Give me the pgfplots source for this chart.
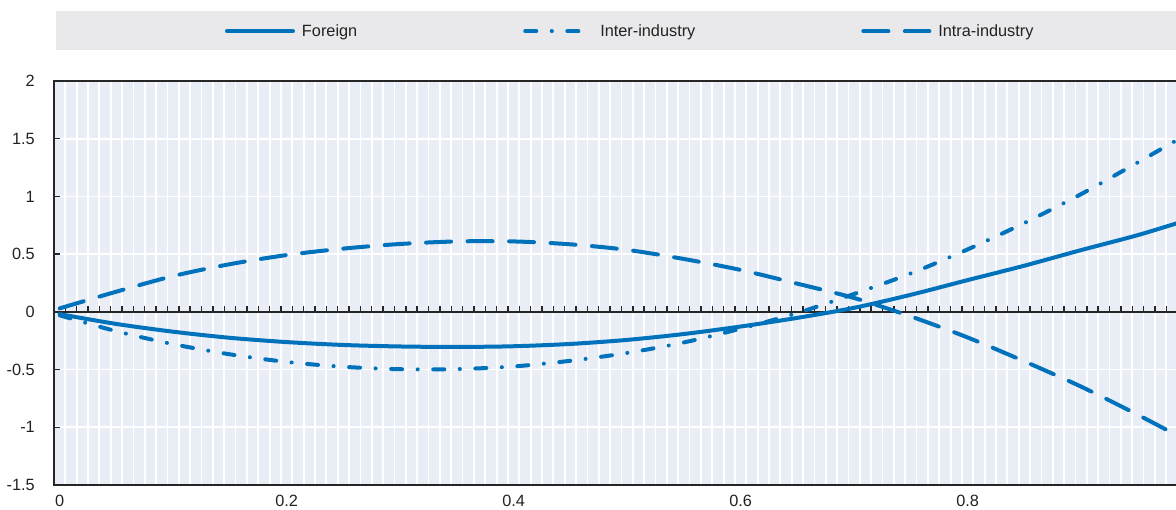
\documentclass[border=0pt]{standalone}
\usepackage{fontspec}
\setmainfont{Liberation Sans}
\usepackage{pgfplots}
\pgfplotsset{compat=1.18}
\definecolor{oecdblue}{HTML}{0072BC}
\definecolor{plotbg}{HTML}{E9EDF6}
\definecolor{legbg}{HTML}{E9E9EB}
\definecolor{txt}{HTML}{222222}
\definecolor{axc}{HTML}{262626}
\newcommand\chartfont{\fontsize{16.3}{19.5}\selectfont}
\pgfplotsset{interlegend/.style={legend image code/.code={\draw[##1] (2pt,0pt) -- (59pt,0pt); \path (0pt,0pt) (70pt,0pt);}}}
\begin{document}
\begin{tikzpicture}
\path[use as bounding box] (0pt,0pt) rectangle (1176pt,510pt);
\fill[legbg] (56pt,460pt) rectangle (1190pt,499pt);
\begin{axis}[
  at={(54pt,25pt)}, anchor=south west,
  scale only axis, width=1135pt, height=404pt,
  xmin=-0.005, xmax=0.995, ymin=-1.5, ymax=2,
  axis background/.style={fill=plotbg},
  axis line style={axc, line width=2pt},
  xtick={0,0.2,0.4,0.6,0.8},
  xticklabels={0,0.2,0.4,0.6,0.8},
  ytick={-1.5,-1,-0.5,0,0.5,1,1.5,2},
  yticklabels={-1.5,-1,-0.5,0,0.5,1,1.5,2},
  minor xtick={0.005,0.015,...,0.995},
  xminorgrids=true, ymajorgrids=true, xmajorgrids=false,
  minor grid style={white, line width=1.8pt},
  major grid style={white, line width=1.8pt},
  xtick style={draw=none},
  minor tick style={draw=none},
  ytick style={axc, line width=1.4pt},
  tick align=inside, major tick length=6pt,
  every tick label/.append style={font=\chartfont, text=txt},
  yticklabel style={anchor=east, inner sep=0pt, xshift=-19pt},
  xticklabel style={anchor=north, inner sep=0pt, yshift=-10pt},
  legend columns=3,
  legend image code/.code={\draw[#1] (2pt,0pt) -- (68pt,0pt); \path (0pt,0pt) (70pt,0pt);},
  legend style={at={(0.1489,1.123)}, anchor=west, draw=none, fill=none,
    inner sep=0pt, outer sep=0pt, font=\chartfont, text=txt,
    nodes={inner sep=0pt},
    /tikz/every odd column/.append style={column sep=5pt},
    /tikz/every even column/.append style={column sep=164pt}},
  every axis plot/.append style={oecdblue, line width=4pt, line cap=round, line join=round, smooth},
]
\draw[axc, line width=2pt] (axis cs:-0.005,0) -- (axis cs:0.995,0);
\pgfplotsinvokeforeach{0,...,99}{\draw[axc, line width=1.4pt] (axis cs:{0.005+#1*0.01},0) -- ++(0pt,5.5pt);}
\addplot[solid] coordinates {(0,-0.02)(0.05,-0.105)(0.1,-0.172)(0.15,-0.225)(0.2,-0.262)(0.25,-0.287)(0.3,-0.300)(0.35,-0.304)(0.4,-0.298)(0.45,-0.278)(0.5,-0.243)(0.55,-0.192)(0.6,-0.127)(0.65,-0.052)(0.7,0.035)(0.75,0.148)(0.8,0.275)(0.85,0.40)(0.9,0.535)(0.95,0.665)(0.99,0.785)};
\addlegendentry{Foreign}
\addplot[dash pattern=on 11pt off 15.5pt on 0.1pt off 15.5pt, interlegend]
  coordinates {(0,-0.03)(0.05,-0.168)(0.1,-0.28)(0.15,-0.368)(0.2,-0.434)(0.25,-0.476)(0.3,-0.497)(0.35,-0.496)(0.4,-0.473)(0.45,-0.424)(0.5,-0.356)(0.55,-0.265)(0.6,-0.146)(0.65,-0.01)(0.7,0.155)(0.75,0.333)(0.8,0.541)(0.85,0.77)(0.9,1.02)(0.95,1.295)(0.99,1.52)};
\addlegendentry{Inter-industry}
\addplot[dash pattern=on 25pt off 16.5pt]
  coordinates {(0,0.03)(0.05,0.175)(0.1,0.31)(0.15,0.413)(0.2,0.492)(0.25,0.548)(0.3,0.588)(0.35,0.61)(0.4,0.61)(0.45,0.585)(0.5,0.537)(0.55,0.458)(0.6,0.363)(0.65,0.244)(0.7,0.12)(0.75,-0.04)(0.8,-0.222)(0.85,-0.429)(0.9,-0.648)(0.95,-0.892)(0.99,-1.10)};
\addlegendentry{Intra-industry}
\end{axis}
\end{tikzpicture}
\end{document}
